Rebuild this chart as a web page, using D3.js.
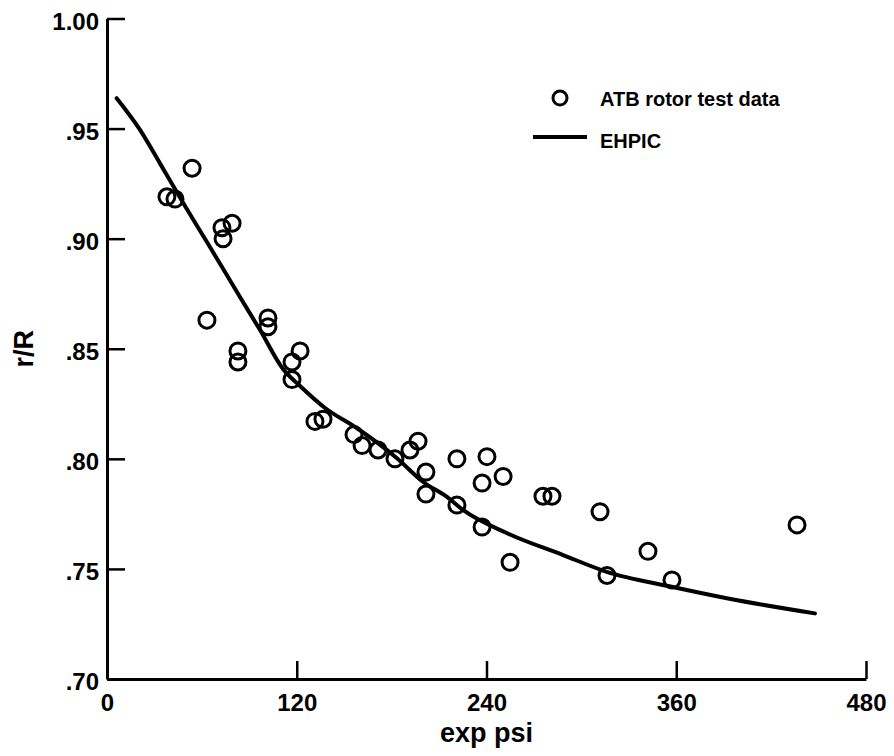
<!DOCTYPE html>
<html>
<head>
<meta charset="utf-8">
<script src="https://cdn.jsdelivr.net/npm/d3@7"></script>
<style>
  html, body { margin: 0; padding: 0; background: #fff; }
  svg text { font-family: "Liberation Sans", Arial, Helvetica, sans-serif; font-weight: bold; fill: #000; }
</style>
</head>
<body>
<svg id="chart" width="894" height="756"></svg>
<script>
// ATB rotor test data (open circles)
var testPsi = [37.9, 43.0, 53.8, 72.7, 79.1, 73.4, 63.2, 101.8, 101.8, 82.8,
    82.8, 122.1, 117.0, 117.0, 131.5, 136.6, 156.2, 161.3, 171.4, 182.1,
    191.6, 196.7, 201.7, 201.7, 221.3, 240.3, 237.2, 250.5, 221.3, 237.2,
    254.9, 275.7, 281.4, 311.8, 316.2, 342.1, 357.3, 436.4];
var testR = [0.919, 0.918, 0.932, 0.905, 0.907, 0.900, 0.863, 0.864, 0.860, 0.849,
    0.844, 0.849, 0.844, 0.836, 0.817, 0.818, 0.811, 0.806, 0.804, 0.800,
    0.804, 0.808, 0.794, 0.784, 0.800, 0.801, 0.789, 0.792, 0.779, 0.769,
    0.753, 0.783, 0.783, 0.776, 0.747, 0.758, 0.745, 0.770];

// EHPIC prediction
var ehpicPsi = [6.1, 20.9, 33.5, 48.3, 63.1, 73.4, 84.1, 96.8, 111.3, 122.1,
    137.9, 157.9, 183.2, 199.8, 214.8, 225.1, 252.8, 288.4, 316.0, 357.1,
    391.9, 447.7];
var ehpicR = [0.9638, 0.9494, 0.9342, 0.9161, 0.8986, 0.8863, 0.8735, 0.8585, 0.8408, 0.8331,
    0.8231, 0.8140, 0.8004, 0.7896, 0.7828, 0.7768, 0.7663, 0.7563, 0.7487, 0.7419,
    0.7367, 0.7298];

var xTicks = [0, 120, 240, 360, 480];
var yTicks = [0.70, 0.75, 0.80, 0.85, 0.90, 0.95, 1.00];
var legendLabels = ["ATB rotor test data", "EHPIC"];

var svg = d3.select("#chart");

var x = d3.scaleLinear().domain([0, 480]).range([107, 866]);
var y = d3.scaleLinear().domain([0.70, 1.00]).range([679, 18.5]);

var yFmt = function(d) {
    var s = d3.format(".2f")(d);
    return d >= 1 ? s : s.replace(/^0/, "");
};

// axes (ticks point inward)
var xAxis = svg.append("g")
    .attr("transform", "translate(0," + y(0.70) + ")")
    .call(d3.axisBottom(x).tickValues(xTicks).tickSize(-18).tickSizeOuter(0).tickPadding(15));
var yAxis = svg.append("g")
    .attr("transform", "translate(" + x(0) + ",0)")
    .call(d3.axisLeft(y).tickValues(yTicks).tickFormat(yFmt).tickSize(-18).tickSizeOuter(0).tickPadding(8));

[xAxis, yAxis].forEach(function(g) {
    g.select(".domain").attr("stroke", "#000").attr("stroke-width", 3);
    g.selectAll(".tick line").attr("stroke", "#000").attr("stroke-width", 2.5);
    g.selectAll(".tick text").style("font-size", "24px");
});
xAxis.selectAll(".tick text").attr("dy", "0.71em");
yAxis.selectAll(".tick text").attr("dy", "0.45em");

// axis titles
svg.append("text")
    .attr("x", x(240)).attr("y", 742)
    .attr("text-anchor", "middle")
    .style("font-size", "27px")
    .text("exp psi");
svg.append("text")
    .attr("transform", "translate(33," + y(0.85) + ") rotate(-90)")
    .attr("text-anchor", "middle")
    .style("font-size", "27px")
    .text("r/R");

// EHPIC curve
var line = d3.line()
    .x(function(d) { return x(d[0]); })
    .y(function(d) { return y(d[1]); })
    .curve(d3.curveMonotoneX);

svg.append("path")
    .datum(d3.zip(ehpicPsi, ehpicR))
    .attr("d", line)
    .attr("fill", "none")
    .attr("stroke", "#000")
    .attr("stroke-width", 4)
    .attr("stroke-linecap", "round");

// test points
svg.append("g").selectAll("circle")
    .data(d3.zip(testPsi, testR))
    .enter().append("circle")
    .attr("cx", function(d) { return x(d[0]); })
    .attr("cy", function(d) { return y(d[1]); })
    .attr("r", 8)
    .attr("fill", "none")
    .attr("stroke", "#000")
    .attr("stroke-width", 3);

// legend
var legend = svg.append("g");
legend.append("circle")
    .attr("cx", 560).attr("cy", 98)
    .attr("r", 7)
    .attr("fill", "none")
    .attr("stroke", "#000")
    .attr("stroke-width", 3);
legend.append("line")
    .attr("x1", 533).attr("x2", 587)
    .attr("y1", 137).attr("y2", 137)
    .attr("stroke", "#000")
    .attr("stroke-width", 4);
legend.selectAll("text")
    .data(legendLabels)
    .enter().append("text")
    .attr("x", 600)
    .attr("y", function(d, i) { return 106 + i * 42; })
    .style("font-size", "20px")
    .text(function(d) { return d; });
</script>
</body>
</html>
